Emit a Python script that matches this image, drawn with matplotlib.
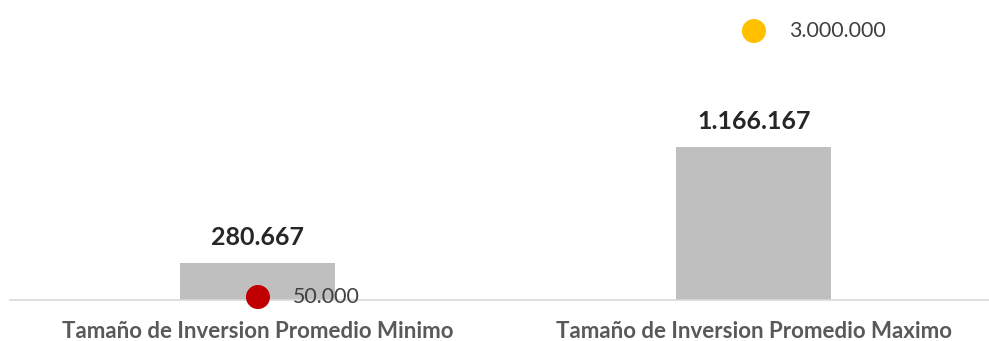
import matplotlib
matplotlib.use("Agg")
from matplotlib import pyplot as plt

# data
categories = ["Tamaño de Inversion Promedio Minimo", "Tamaño de Inversion Promedio Maximo"]
promedio = [280667, 1166167]
puntos = [50000, 3000000]
punto_colors = ["#C00000", "#FFC000"]


def fmt(v):
    return f"{v:,}".replace(",", ".")


plt.rcParams["font.family"] = ["Lato", "DejaVu Sans"]

fig = plt.figure(figsize=(9.89, 3.41), dpi=100)
ax = fig.add_axes([10 / 989, 41 / 341, 979 / 989, 300 / 341])
ax2 = ax.twinx()

x = list(range(len(categories)))
ax.bar(x, promedio, width=0.3125, color="#BFBFBF", zorder=2)
for xi, v in zip(x, promedio):
    ax.annotate(fmt(v), (xi, v), xytext=(0, 10), textcoords="offset points",
                ha="center", va="bottom", fontsize=18, fontweight="bold", color="#262626")

ax2.scatter(x, puntos, s=300, c=punto_colors, zorder=3, linewidths=0, clip_on=False)
for xi, v in zip(x, puntos):
    ax2.annotate(fmt(v), (xi, v), xytext=(25, 0), textcoords="offset points",
                 ha="left", va="center", fontsize=15.4, color="#404040")

ax.set_xlim(-0.5, 1.474)
ax.set_ylim(0, 2.29e6)
ax2.set_ylim(0.017e6, 3.344e6)

ax.set_xticks(x)
ax.set_xticklabels(categories, fontsize=16, fontweight="bold", color="#595959")
ax.tick_params(axis="x", length=0, pad=15)
ax.set_yticks([])
ax2.set_yticks([])

for a in (ax, ax2):
    for s in ("top", "right", "left", "bottom"):
        a.spines[s].set_visible(False)
ax.spines["bottom"].set_visible(True)
ax.spines["bottom"].set_color("#D9D9D9")
ax.spines["bottom"].set_linewidth(1.2)

fig.savefig("out.png", dpi=100)
